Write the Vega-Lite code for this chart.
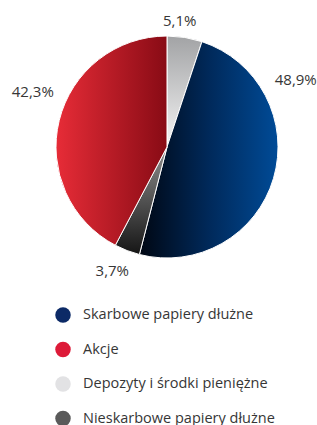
{
  "$schema": "https://vega.github.io/schema/vega-lite/v6.json",
  "width": 300,
  "height": 294,
  "padding": {"left": 17, "top": 0, "right": 0, "bottom": 131},
  "autosize": {"type": "none"},
  "background": "white",
  "data": {
    "values": [
      {"category": "Depozyty i środki pieniężne", "value": 5.1, "label": "5,1%", "ord": 1},
      {"category": "Skarbowe papiery dłużne", "value": 48.9, "label": "48,9%", "ord": 2},
      {"category": "Nieskarbowe papiery dłużne", "value": 3.7, "label": "3,7%", "ord": 3},
      {"category": "Akcje", "value": 42.3, "label": "42,3%", "ord": 4}
    ]
  },
  "transform": [
    {"stack": "value", "groupby": [], "sort": [{"field": "ord", "order": "ascending"}], "as": ["v0", "v1"]}
  ],
  "layer": [
    {
      "mark": {"type": "arc", "outerRadius": 111, "stroke": "white", "strokeWidth": 1},
      "encoding": {
        "theta": {"field": "v0", "type": "quantitative", "scale": {"domain": [0, 100]}},
        "theta2": {"field": "v1"},
        "color": {
          "field": "category",
          "type": "nominal",
          "scale": {
            "domain": ["Skarbowe papiery dłużne", "Akcje", "Depozyty i środki pieniężne", "Nieskarbowe papiery dłużne"],
            "range": ["#0c2a66", "#dd1a38", "#e2e2e4", "#5a5a5a"]
          },
          "legend": {
            "title": null,
            "orient": "none",
            "legendX": 38,
            "legendY": 307,
            "direction": "vertical",
            "symbolType": "circle",
            "symbolSize": 240,
            "symbolStrokeWidth": 0,
            "symbolOpacity": 1,
            "labelOffset": 12,
            "rowPadding": 18.5,
            "labelFont": "Open Sans",
            "labelFontSize": 14.5,
            "labelColor": "#363636",
            "labelLimit": 300
          }
        }
      }
    },
    {
      "transform": [{"filter": "datum.ord == 1"}],
      "mark": {"type": "arc", "outerRadius": 111, "stroke": "white", "strokeWidth": 1,
        "fill": {"gradient": "linear", "x1": 0, "y1": 0, "x2": 0, "y2": 1, "stops": [{"offset": 0, "color": "#a2a3a5"}, {"offset": 1, "color": "#f5f5f5"}]}},
      "encoding": {
        "theta": {"field": "v0", "type": "quantitative"},
        "theta2": {"field": "v1"}
      }
    },
    {
      "transform": [{"filter": "datum.ord == 2"}],
      "mark": {"type": "arc", "outerRadius": 111, "stroke": "white", "strokeWidth": 1,
        "fill": {"gradient": "linear", "x1": 0, "y1": 0, "x2": 1, "y2": 0, "stops": [{"offset": 0, "color": "#000713"}, {"offset": 0.5, "color": "#00295a"}, {"offset": 1, "color": "#004b97"}]}},
      "encoding": {
        "theta": {"field": "v0", "type": "quantitative"},
        "theta2": {"field": "v1"}
      }
    },
    {
      "transform": [{"filter": "datum.ord == 3"}],
      "mark": {"type": "arc", "outerRadius": 111, "stroke": "white", "strokeWidth": 1,
        "fill": {"gradient": "linear", "x1": 0, "y1": 0, "x2": 0, "y2": 1, "stops": [{"offset": 0, "color": "#8e8e8e"}, {"offset": 1, "color": "#151515"}]}},
      "encoding": {
        "theta": {"field": "v0", "type": "quantitative"},
        "theta2": {"field": "v1"}
      }
    },
    {
      "transform": [{"filter": "datum.ord == 4"}],
      "mark": {"type": "arc", "outerRadius": 111, "stroke": "white", "strokeWidth": 1,
        "fill": {"gradient": "linear", "x1": 0, "y1": 0, "x2": 1, "y2": 0, "stops": [{"offset": 0, "color": "#e72c37"}, {"offset": 1, "color": "#880b15"}]}},
      "encoding": {
        "theta": {"field": "v0", "type": "quantitative"},
        "theta2": {"field": "v1"}
      }
    },
    {
      "mark": {
        "type": "text",
        "radius": 130,
        "font": "Open Sans",
        "fontSize": 15,
        "color": "#363636",
        "dx": {"expr": "datum.ord == 1 ? -8 : datum.ord == 2 ? 4 : datum.ord == 3 ? -8 : -8"},
        "dy": {"expr": "datum.ord == 1 ? 2 : datum.ord == 2 ? -104 : datum.ord == 3 ? 3 : -24"}
      },
      "encoding": {
        "theta": {"field": "value", "type": "quantitative", "stack": true},
        "order": {"field": "ord", "type": "quantitative"},
        "text": {"field": "label", "type": "nominal"}
      }
    }
  ]
}
